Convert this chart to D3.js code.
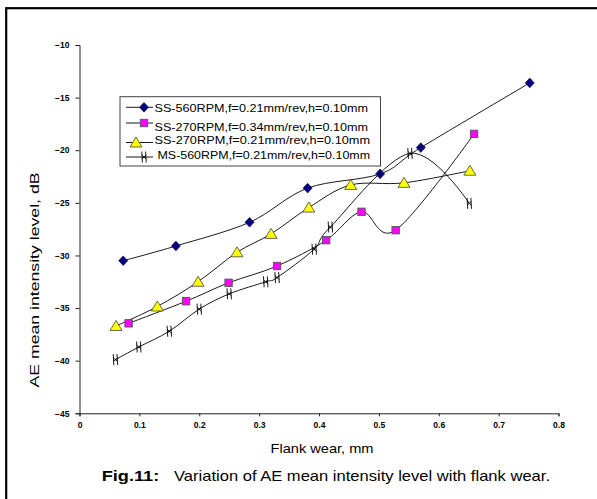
<!DOCTYPE html>
<html>
<head>
<meta charset="utf-8">
<script src="https://cdn.jsdelivr.net/npm/d3@7"></script>
<style>
  body { margin: 0; background: #fff; }
  svg { display: block; font-family: "Liberation Sans", Arial, sans-serif; }
</style>
</head>
<body>
<div id="main"></div>
<script>
// data (flank wear mm, AE level dB)
var ss560X = [0.073, 0.161, 0.284, 0.381, 0.502, 0.570, 0.752];
var ss560Y = [-30.5, -29.1, -26.85, -23.6, -22.25, -19.75, -13.6];

var ss270aX = [0.082, 0.178, 0.249, 0.330, 0.412, 0.471, 0.528, 0.659];
var ss270aY = [-36.45, -34.35, -32.6, -31.0, -28.55, -25.85, -27.6, -18.45];

var ss270bX = [0.061, 0.130, 0.198, 0.263, 0.320, 0.383, 0.453, 0.542, 0.652];
var ss270bY = [-36.7, -34.85, -32.5, -29.7, -27.95, -25.45, -23.3, -23.1, -21.95];

var ms560X = [0.060, 0.099, 0.150, 0.200, 0.250, 0.311, 0.330, 0.392, 0.419, 0.552, 0.651];
var ms560Y = [-39.9, -38.7, -37.2, -35.1, -33.65, -32.5, -32.1, -29.4, -27.3, -20.3, -25.05];

var seriesNames = [
  "SS-560RPM,f=0.21mm/rev,h=0.10mm",
  "SS-270RPM,f=0.34mm/rev,h=0.10mm",
  "SS-270RPM,f=0.21mm/rev,h=0.10mm",
  "MS-560RPM,f=0.21mm/rev,h=0.10mm"
];
var xTicks = [0, 0.1, 0.2, 0.3, 0.4, 0.5, 0.6, 0.7, 0.8];
var yTicks = [-45, -40, -35, -30, -25, -20, -15, -10];

var xTitle = "Flank wear, mm";
var yTitle = "AE mean intensity level, dB";
var figLabel = "Fig.11:";
var figText = "Variation of AE mean intensity level with flank wear.";

var W = 597, H = 499;

var svg = d3.select("#main")
  .append("svg")
  .attr("width", W)
  .attr("height", H);

svg.append("rect")
  .attr("width", W).attr("height", H)
  .attr("fill", "#fff");

// frame (right and bottom fall outside the picture)
svg.append("rect")
  .attr("x", 6.2).attr("y", 8.2)
  .attr("width", 620).attr("height", 520)
  .attr("fill", "none")
  .attr("stroke", "#000")
  .attr("stroke-width", 2.2);

var x = d3.scaleLinear().domain([0, 0.8]).range([79.5, 558.5]);
var y = d3.scaleLinear().domain([-45, -10]).range([413.3, 45]);

var xAxis = svg.append("g")
  .attr("transform", "translate(0," + y(-45) + ")")
  .call(d3.axisBottom(x).tickValues(xTicks).tickSize(3).tickPadding(6)
    .tickFormat(function(d) { return d === 0 ? "0" : d3.format(".1f")(d); }));

var yAxis = svg.append("g")
  .attr("transform", "translate(" + x(0) + ",0)")
  .call(d3.axisLeft(y).tickValues(yTicks).tickSize(4).tickPadding(6)
    .tickFormat(d3.format("d")));

[xAxis, yAxis].forEach(function(a) {
  a.select(".domain").attr("stroke", "#222");
  a.selectAll(".tick line").attr("stroke", "#222");
  a.selectAll(".tick text")
    .attr("fill", "#000")
    .style("font-size", "8.5px")
    .style("font-weight", "bold")
    .style("font-family", "'Liberation Sans', Arial, sans-serif");
});

var series = [
  {xs: ss560X, ys: ss560Y, type: "diamond"},
  {xs: ss270aX, ys: ss270aY, type: "square"},
  {xs: ss270bX, ys: ss270bY, type: "triangle"},
  {xs: ms560X, ys: ms560Y, type: "star"}
];

var line = d3.line()
  .x(function(d) { return x(d[0]); })
  .y(function(d) { return y(d[1]); })
  .curve(d3.curveCardinal.tension(0));

function drawMarker(g, type) {
  if (type === "diamond") {
    g.append("path")
      .attr("d", "M0,-4.8L4.5,0L0,4.8L-4.5,0Z")
      .attr("fill", "#000080").attr("stroke", "#1a1a40").attr("stroke-width", 0.8);
  } else if (type === "square") {
    g.append("rect")
      .attr("x", -3.7).attr("y", -3.7).attr("width", 7.4).attr("height", 7.4)
      .attr("fill", "#ff00ff").attr("stroke", "#555").attr("stroke-width", 0.9);
  } else if (type === "triangle") {
    g.append("path")
      .attr("d", "M0,-5.5L6,4.5L-6,4.5Z")
      .attr("fill", "#ffff00").attr("stroke", "#444").attr("stroke-width", 0.8);
  } else {
    g.append("path")
      .attr("d", "M-2.2,-5.5L-1.6,5.5M1.6,-5.5L2.2,5.5M-2.2,-2L2.2,2M-2.2,2L2.2,-2")
      .attr("fill", "none").attr("stroke", "#000").attr("stroke-width", 0.9);
  }
}

series.forEach(function(s) {
  var pts = s.xs.map(function(v, i) { return [v, s.ys[i]]; });
  svg.append("path")
    .attr("d", line(pts))
    .attr("fill", "none")
    .attr("stroke", "#000")
    .attr("stroke-width", 0.9);
  s.pts = pts;
});

series.forEach(function(s) {
  svg.selectAll(null)
    .data(s.pts)
    .enter()
    .append("g")
    .attr("transform", function(d) { return "translate(" + x(d[0]) + "," + y(d[1]) + ")"; })
    .each(function() { drawMarker(d3.select(this), s.type); });
});

// legend
var legend = svg.append("g");
legend.append("rect")
  .attr("x", 120).attr("y", 96.7)
  .attr("width", 260.5).attr("height", 69.3)
  .attr("fill", "#fff")
  .attr("stroke", "#444")
  .attr("stroke-width", 1);

var legSymY = [107.3, 123, 142.5, 157];
var legSymX = [144, 144, 136, 144];
var legTextY = [112, 131, 143.5, 159];
var legTextX = [154.5, 154.5, 154.5, 157.5];
var legTextEnd = [368, 368, 370, 370];

seriesNames.forEach(function(name, i) {
  legend.append("line")
    .attr("x1", 126).attr("x2", 153)
    .attr("y1", legSymY[i]).attr("y2", legSymY[i])
    .attr("stroke", "#000").attr("stroke-width", 0.9);
  drawMarker(legend.append("g")
    .attr("transform", "translate(" + legSymX[i] + "," + legSymY[i] + ")"), series[i].type);
  legend.append("text")
    .attr("x", legTextX[i]).attr("y", legTextY[i])
    .attr("textLength", legTextEnd[i] - legTextX[i])
    .attr("lengthAdjust", "spacingAndGlyphs")
    .style("font-size", "11.5px")
    .text(name);
});

// axis titles
svg.append("text")
  .attr("x", 322).attr("y", 453)
  .attr("text-anchor", "middle")
  .attr("textLength", 103)
  .attr("lengthAdjust", "spacingAndGlyphs")
  .style("font-size", "13px")
  .text(xTitle);

svg.append("text")
  .attr("transform", "translate(38.5,280) rotate(-90)")
  .attr("text-anchor", "middle")
  .attr("textLength", 215)
  .attr("lengthAdjust", "spacingAndGlyphs")
  .style("font-size", "13px")
  .text(yTitle);

// caption
svg.append("text")
  .attr("x", 101.7).attr("y", 481)
  .attr("textLength", 57.5)
  .attr("lengthAdjust", "spacingAndGlyphs")
  .style("font-size", "15px")
  .style("font-weight", "bold")
  .text(figLabel);

svg.append("text")
  .attr("x", 174).attr("y", 481)
  .attr("textLength", 376)
  .attr("lengthAdjust", "spacingAndGlyphs")
  .style("font-size", "15px")
  .text(figText);
</script>
</body>
</html>
